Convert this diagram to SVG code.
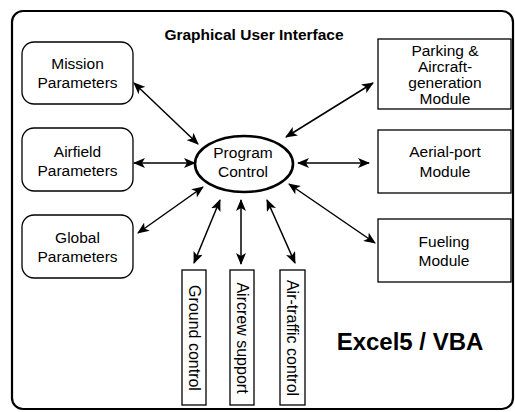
<svg xmlns="http://www.w3.org/2000/svg" width="515" height="412" viewBox="0 0 515 412">
<defs>
<marker id="ah" viewBox="0 0 12 10" refX="11" refY="5" markerWidth="12" markerHeight="10" markerUnits="userSpaceOnUse" orient="auto-start-reverse">
<path d="M0,0 L12,5 L0,10 L3,5 Z" fill="#000"/>
</marker>
<style>
text{font-family:"Liberation Sans",Arial,sans-serif;font-size:15.5px;fill:#000;text-anchor:middle}
.b{font-weight:bold}
.box{fill:#fff;stroke:#000;stroke-width:1.3}
.c line{stroke:#000;stroke-width:1.5;marker-start:url(#ah);marker-end:url(#ah)}
</style>
</defs>
<rect width="515" height="412" fill="#fff"/>
<g id="frame">
<rect x="12" y="11" width="501" height="398" rx="11" fill="none" stroke="#000" stroke-width="2.2"/>
<text class="b" x="254" y="40">Graphical User Interface</text>
<text class="b" x="410" y="350" style="font-size:24px">Excel5 / VBA</text>
</g>
<g id="mission"><rect class="box" x="22" y="42" width="111" height="62" rx="12"/><text x="77.5" y="69">Mission</text><text x="77.5" y="88">Parameters</text></g>
<g id="airfield"><rect class="box" x="22" y="128" width="111" height="63" rx="12"/><text x="77.5" y="157">Airfield</text><text x="77.5" y="176">Parameters</text></g>
<g id="global"><rect class="box" x="22" y="215" width="111" height="63" rx="12"/><text x="77.5" y="243">Global</text><text x="77.5" y="262">Parameters</text></g>
<g id="program"><ellipse cx="244" cy="164" rx="49" ry="28" fill="#fff" stroke="#000" stroke-width="2.6"/><text x="243" y="158">Program</text><text x="243" y="177">Control</text></g>
<g id="parking"><rect class="box" x="378" y="39" width="133" height="70"/><text x="445" y="56">Parking &amp;</text><text x="445" y="72">Aircraft-</text><text x="445" y="88">generation</text><text x="445" y="104">Module</text></g>
<g id="aerial"><rect class="box" x="378" y="130" width="133" height="63"/><text x="445" y="157">Aerial-port</text><text x="445" y="177">Module</text></g>
<g id="fueling"><rect class="box" x="378" y="219" width="133" height="63"/><text x="444" y="247">Fueling</text><text x="444" y="266">Module</text></g>
<g id="ground"><rect class="box" x="182" y="270" width="24" height="135"/><text transform="translate(194,338) rotate(90)" y="5.5" style="font-size:16px">Ground control</text></g>
<g id="aircrew"><rect class="box" x="230" y="270" width="24" height="135"/><text transform="translate(242,338) rotate(90)" y="5.5" style="font-size:16px">Aircrew support</text></g>
<g id="airtraffic"><rect class="box" x="280" y="270" width="25" height="135"/><text transform="translate(292.5,338) rotate(90)" y="5.5" style="font-size:16px">Air-traffic control</text></g>
<g id="connectors" class="c">
<line x1="134" y1="83" x2="198" y2="144"/>
<line x1="134" y1="163" x2="195" y2="163"/>
<line x1="138" y1="233" x2="203" y2="187"/>
<line x1="194" y1="263" x2="220" y2="200"/>
<line x1="241" y1="264" x2="241" y2="200"/>
<line x1="295" y1="263" x2="267" y2="200"/>
<line x1="375" y1="243" x2="289" y2="184"/>
<line x1="369" y1="163" x2="298" y2="163"/>
<line x1="373" y1="83" x2="286" y2="137"/>
</g>
</svg>
